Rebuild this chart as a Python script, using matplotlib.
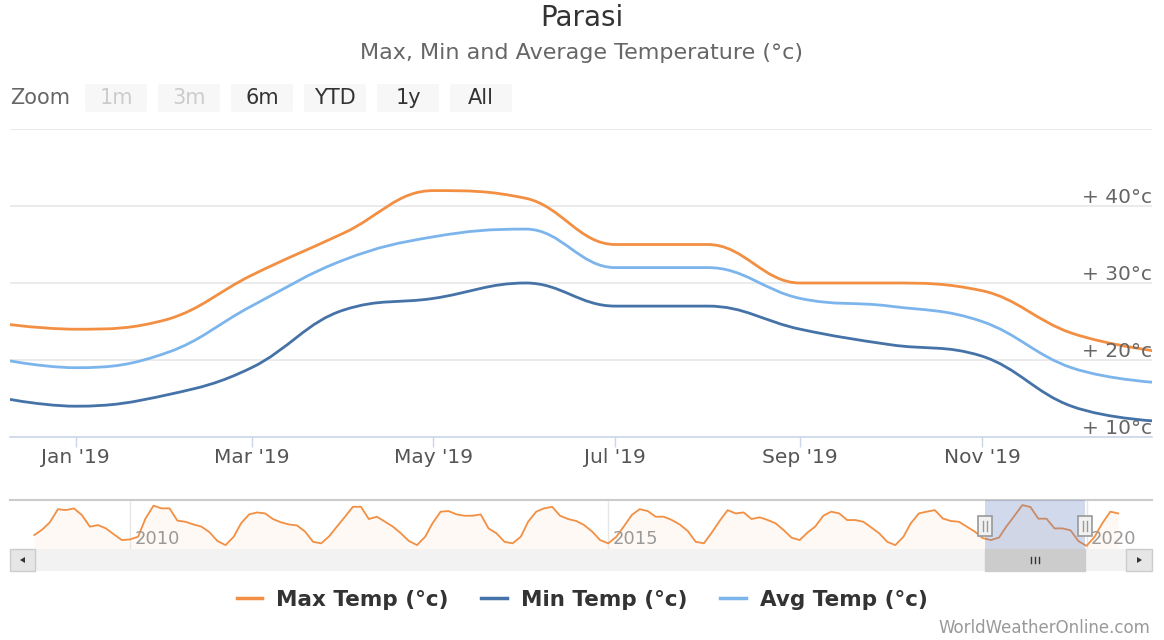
import datetime as dt
import matplotlib
matplotlib.use("Agg")
import matplotlib.pyplot as plt
import matplotlib.dates as mdates
from matplotlib.path import Path
from matplotlib.patches import PathPatch, Rectangle, FancyBboxPatch, Polygon
from matplotlib.lines import Line2D
import matplotlib.transforms as mtransforms

plt.rcParams['font.family'] = ['DejaVu Sans']

# monthly points shown in the main chart (Dec 2018 .. Jan 2020)
months = [dt.date(2018, 12, 1)] + [dt.date(2019, m, 1) for m in range(1, 13)] + [dt.date(2020, 1, 1)]
max_temp = [25, 24, 25.3, 31, 36.5, 42, 41, 35, 35, 30, 30, 29, 23.5, 21]
min_temp = [15.5, 14, 15.5, 19, 26.5, 28, 30, 27, 27, 24, 22, 20.5, 14, 12]
avg_temp = [20.5, 19, 21, 27, 33, 36, 37, 32, 32, 28, 27, 25, 19, 17]

# navigator history (monthly max temp)
nav_2009 = [26.6, 29.5, 33.1, 39.9, 39.4, 40.3, 36.9, 30.9, 31.7, 30, 26.9, 24]
nav_2010 = [24.3, 25.7, 35, 41.7, 40.3, 40.3, 34, 33.4, 32, 30.9, 28, 23.5]
nav_2011 = [21.4, 25.7, 32.6, 37.2, 38.2, 37.7, 34.8, 33.1, 32, 31.5, 28.3, 23.1]
nav_2012 = [22.3, 26, 30.9, 36, 41.1, 41.1, 34.8, 36, 33.4, 30.9, 27.4, 23.5]
nav_2013 = [21.4, 25.7, 32.6, 38.6, 38.9, 37.2, 36.5, 36.5, 37.2, 30, 27.4, 23.1]
nav_2014 = [22.3, 25.7, 33.4, 38.6, 40.3, 41.1, 36.5, 34.8, 33.8, 31.7, 28.3, 24]
nav_2015 = [22.3, 25.7, 30.9, 36.9, 39.9, 38.9, 36, 36, 34.3, 32, 28.6, 23.1]
nav_2016 = [22.3, 28, 33.8, 39.4, 37.7, 38.2, 34.8, 35.7, 34.3, 32.6, 29.1, 25.2]
nav_2017 = [24, 28, 30.9, 36.5, 38.6, 37.7, 34.3, 34.3, 33.4, 30.5, 27.4, 23.1]
nav_2018 = [21.4, 25.7, 32.6, 37.7, 38.6, 39.4, 35.1, 33.8, 33.4, 30.9, 28.3, 25]
nav_2019 = max_temp[1:13]
nav_2020 = [21, 25.7, 32.6, 38.6, 37.7]

series_names = ['Max Temp (°c)', 'Min Temp (°c)', 'Avg Temp (°c)']
series_colors = ['#f28f43', '#4572a7', '#7cb5ec']
x_ticks = [dt.date(2019, m, 1) for m in (1, 3, 5, 7, 9, 11)]
y_ticks = [10, 20, 30, 40]
buttons = ['1m', '3m', '6m', 'YTD', '1y', 'All']
view_start, view_end = dt.date(2018, 12, 10), dt.date(2019, 12, 28)

W, H = 1164, 640


def rect(x0, y0, x1, y1):
    return [x0 / W, 1 - y1 / H, (x1 - x0) / W, (y1 - y0) / H]


def spline_path(xs, ys):
    # highcharts-like spline: bezier control points per point
    n = len(xs)
    sm, den = 1.5, 2.5
    lc = [None] * n
    rc = [None] * n
    for i in range(1, n - 1):
        px, py = xs[i], ys[i]
        lx, ly = xs[i - 1], ys[i - 1]
        nx, ny = xs[i + 1], ys[i + 1]
        lcx = (sm * px + lx) / den
        lcy = (sm * py + ly) / den
        rcx = (sm * px + nx) / den
        rcy = (sm * py + ny) / den
        corr = (rcy - lcy) * (rcx - px) / (rcx - lcx) + py - rcy
        lcy += corr
        rcy += corr
        if lcy > ly and lcy > py:
            lcy = max(ly, py)
            rcy = 2 * py - lcy
        elif lcy < ly and lcy < py:
            lcy = min(ly, py)
            rcy = 2 * py - lcy
        if rcy > ny and rcy > py:
            rcy = max(ny, py)
            lcy = 2 * py - rcy
        elif rcy < ny and rcy < py:
            rcy = min(ny, py)
            lcy = 2 * py - rcy
        lc[i] = (lcx, lcy)
        rc[i] = (rcx, rcy)
    verts = [(xs[0], ys[0])]
    codes = [Path.MOVETO]
    for i in range(1, n):
        c1 = rc[i - 1] if rc[i - 1] else (xs[i - 1], ys[i - 1])
        c2 = lc[i] if lc[i] else (xs[i], ys[i])
        verts += [c1, c2, (xs[i], ys[i])]
        codes += [Path.CURVE4] * 3
    return Path(verts, codes)


fig = plt.figure(figsize=(W / 100, H / 100), dpi=100)
fig.patch.set_facecolor('white')

# ---- main chart
ax = fig.add_axes(rect(10, 129, 1152, 437))
xs = mdates.date2num(months)
for vals, col in zip([max_temp, min_temp, avg_temp], series_colors):
    ax.add_patch(PathPatch(spline_path(list(xs), vals), facecolor='none',
                           edgecolor=col, lw=2.0, capstyle='round', zorder=3))
ax.set_xlim(mdates.date2num(view_start), mdates.date2num(view_end))
ax.set_ylim(10, 50)
for v in [10, 20, 30, 40, 50]:
    ax.axhline(v, color='#e6e6e6', lw=1.1, zorder=1)
for s in ['top', 'left', 'right']:
    ax.spines[s].set_visible(False)
ax.spines['bottom'].set_color('#ccd6eb')
ax.spines['bottom'].set_linewidth(1.2)
ax.spines['bottom'].set_zorder(2)
ax.set_xticks(mdates.date2num(x_ticks))
ax.xaxis.set_major_formatter(mdates.DateFormatter("%b '%y"))
ax.tick_params(axis='x', length=7, width=1, color='#ccd6eb', labelcolor='#555555',
               labelsize=14.5, pad=1)
ax.set_yticks([])
trans = mtransforms.blended_transform_factory(ax.transAxes, ax.transData)
for v in y_ticks:
    ax.annotate(f'+ {v}°c', xy=(1.0, v), xycoords=trans, xytext=(0, -0.5),
                textcoords='offset points', ha='right', va='bottom',
                fontsize=14.5, color='#666666')

# ---- navigator
axn = fig.add_axes(rect(10, 500, 1152, 549))
nav_vals = (nav_2009 + nav_2010 + nav_2011 + nav_2012 + nav_2013 + nav_2014 +
            nav_2015 + nav_2016 + nav_2017 + nav_2018 + nav_2019 + nav_2020)
nav_dates = [dt.date(2009 + i // 12, i % 12 + 1, 1) for i in range(len(nav_vals))]
nav_lo = 19.4
axn.fill_between(nav_dates, nav_vals, nav_lo, color='#f28f43', alpha=0.05, lw=0)
axn.plot(nav_dates, nav_vals, color='#f28f43', lw=1.3, zorder=3)
axn.set_xlim(dt.date(2008, 9, 30), dt.date(2020, 9, 7))
axn.set_ylim(nav_lo, 44.6)
axn.set_xticks([])
axn.set_yticks([])
for s in ['left', 'right', 'bottom']:
    axn.spines[s].set_visible(False)
axn.spines['top'].set_color('#cccccc')
axn.spines['top'].set_linewidth(1.5)
for yr in [2010, 2015, 2020]:
    axn.axvline(dt.date(yr, 1, 1), color='#e6e6e6', lw=1, zorder=1)
    axn.annotate(str(yr), xy=(mdates.date2num(dt.date(yr, 1, 1)), 0.02),
                 xycoords=('data', 'axes fraction'), xytext=(3, 0),
                 textcoords='offset points', ha='left', va='bottom',
                 fontsize=13, color='#999999', zorder=5)
axn.axvspan(view_start, view_end, color='#6685c2', alpha=0.3, lw=0, zorder=4)

# ---- overlay in pixel coordinates for UI pieces
ov = fig.add_axes([0, 0, 1, 1], facecolor='none')
ov.set_xlim(0, W)
ov.set_ylim(H, 0)
ov.axis('off')

fig.text(0.5, 1 - 18 / H, 'Parasi', ha='center', va='center', fontsize=20, color='#333333')
fig.text(0.5, 1 - 53 / H, 'Max, Min and Average Temperature (°c)', ha='center',
         va='center', fontsize=16, color='#666666')

ov.text(10, 98, 'Zoom', ha='left', va='center', fontsize=15, color='#666666')
bx = 85
for b in buttons:
    ov.add_patch(FancyBboxPatch((bx, 84), 62, 28, boxstyle='round,pad=0,rounding_size=2',
                                facecolor='#f7f7f7', edgecolor='none'))
    ov.text(bx + 31, 98, b, ha='center', va='center', fontsize=15,
            color='#cccccc' if b in ('1m', '3m') else '#333333')
    bx += 73

# scrollbar
fig.canvas.draw()
x0 = fig.transFigure.inverted().transform(axn.transData.transform((mdates.date2num(view_start), 0)))[0] * W
x1 = fig.transFigure.inverted().transform(axn.transData.transform((mdates.date2num(view_end), 0)))[0] * W
ov.add_patch(Rectangle((10, 549), 1142, 22, facecolor='#f2f2f2', edgecolor='none'))
ov.add_patch(Rectangle((x0, 549), x1 - x0, 22, facecolor='#cccccc', edgecolor='#cccccc'))
for gx in (-4, 0, 4):
    ov.plot([(x0 + x1) / 2 + gx] * 2, [557, 563], color='#333333', lw=1)
ov.add_patch(Rectangle((10, 549), 25, 22, facecolor='#e6e6e6', edgecolor='#cccccc', lw=1))
ov.add_patch(Rectangle((1126, 549), 26, 22, facecolor='#e6e6e6', edgecolor='#cccccc', lw=1))
ov.add_patch(Polygon([(20, 560), (25, 557), (25, 563)], closed=True, facecolor='#333333'))
ov.add_patch(Polygon([(1142, 560), (1137, 557), (1137, 563)], closed=True, facecolor='#333333'))
# handles
for hx in (x0, x1):
    ov.add_patch(Rectangle((hx - 7, 516), 14, 20, facecolor='#f2f2f2', edgecolor='#999999', lw=1.2, zorder=6))
    for gx in (-2, 2):
        ov.plot([hx + gx] * 2, [521, 531], color='#999999', lw=1, zorder=7)

# legend
handles = [Line2D([], [], color=c, lw=2.5) for c in series_colors]
fig.legend(handles, series_names, loc='center', bbox_to_anchor=(0.5, 1 - 600 / H), ncol=3,
           frameon=False, prop={'weight': 'bold', 'size': 15.5}, labelcolor='#333333',
           handlelength=1.2, handletextpad=0.65, columnspacing=1.5)

fig.text(1150 / W, 1 - 628 / H, 'WorldWeatherOnline.com', ha='right', va='center',
         fontsize=12, color='#999999')

fig.savefig('out.png', dpi=100)
